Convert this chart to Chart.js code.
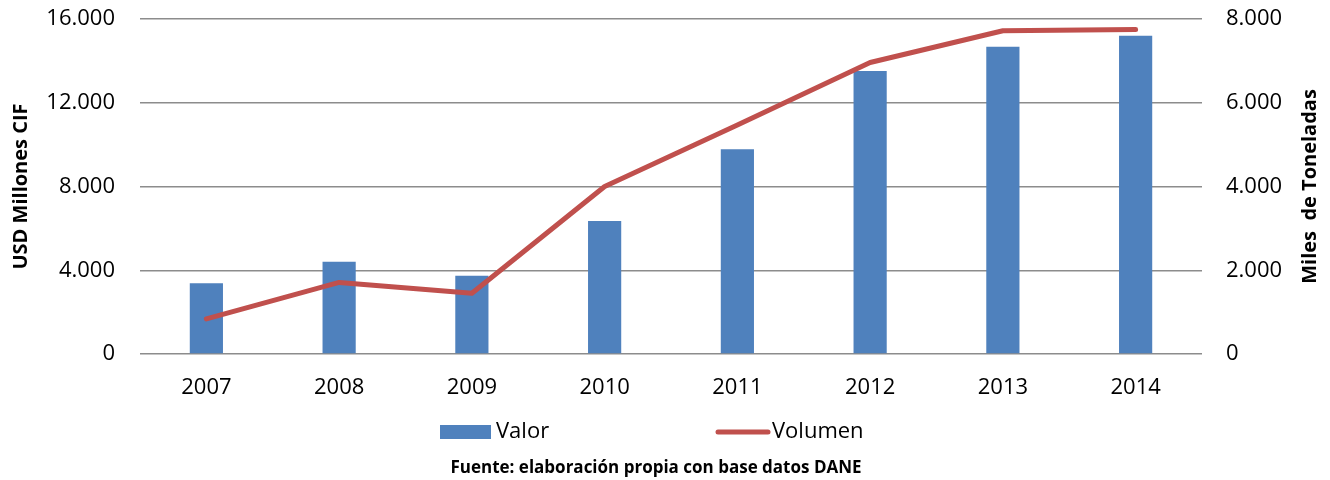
<!DOCTYPE html>
<html>
<head>
<meta charset="utf-8">
<script src="https://cdn.jsdelivr.net/npm/chart.js@4"></script>
<style>
  html, body { margin: 0; padding: 0; background: #fff; }
  #wrap { width: 1330px; height: 480px; }
</style>
</head>
<body>
<div id="wrap"><canvas id="grafico"></canvas></div>
<script>
const anios = ["2007", "2008", "2009", "2010", "2011", "2012", "2013", "2014"];
const valor = [3380, 4410, 3740, 6350, 9780, 13520, 14680, 15200]; // USD millones CIF
const volumen = [840, 1710, 1450, 4000, 5470, 6960, 7720, 7750]; // miles de toneladas
const ticksValor = [0, 4000, 8000, 12000, 16000];
const ticksVolumen = [0, 2000, 4000, 6000, 8000];
const tituloDer = "Miles  de Toneladas";
const fuente = "Fuente: elaboración propia con base datos DANE";

const AZUL = "#4F81BD";
const ROJO = "#C0504D";
const GRIS = "#8C8C8C";
const fam = "'Open Sans', 'DejaVu Sans', sans-serif";

const fmt = (v) => v.toLocaleString("de-DE");

// leyenda, titulo derecho y fuente dibujados a mano
const extrasPlugin = {
  id: "extras",
  afterDraw(chart) {
    const ctx = chart.ctx;
    const ds = chart.data.datasets;
    const area = chart.chartArea;
    ctx.save();
    ctx.font = "22px " + fam;
    ctx.textBaseline = "middle";
    // Valor
    ctx.fillStyle = ds[0].backgroundColor;
    ctx.fillRect(440, 425, 51, 14);
    ctx.fillStyle = "#000";
    ctx.fillText(ds[0].label, 496, 432);
    // Volumen
    ctx.strokeStyle = ds[1].borderColor;
    ctx.lineWidth = 5;
    ctx.lineCap = "round";
    ctx.beginPath();
    ctx.moveTo(718, 432);
    ctx.lineTo(768, 432);
    ctx.stroke();
    ctx.fillText(ds[1].label, 772, 432);
    // fuente
    ctx.font = "bold 17px " + fam;
    ctx.textAlign = "center";
    ctx.fillText(fuente, 656, 468);
    // titulo eje derecho (leido de abajo hacia arriba)
    ctx.translate(1310, (area.top + area.bottom) / 2);
    ctx.rotate(-Math.PI / 2);
    ctx.font = "bold 20px " + fam;
    ctx.fillText(tituloDer, 0, 0);
    ctx.restore();
  },
};

const fijarY = (ancho) => (s) => {
  s.width = ancho;
  s.paddingTop = 0;
  s.paddingBottom = 0;
};

const config = {
  type: "bar",
  data: {
    labels: anios,
    datasets: [
      {
        label: "Valor",
        data: valor,
        backgroundColor: AZUL,
        yAxisID: "y",
        categoryPercentage: 1,
        barPercentage: 0.25,
        order: 2,
      },
      {
        type: "line",
        label: "Volumen",
        data: volumen,
        borderColor: ROJO,
        backgroundColor: ROJO,
        borderWidth: 5,
        pointRadius: 0,
        tension: 0,
        borderCapStyle: "round",
        borderJoinStyle: "round",
        yAxisID: "y1",
        order: 1,
      },
    ],
  },
  options: {
    responsive: true,
    maintainAspectRatio: false,
    animation: false,
    layout: { padding: { top: 19, left: 0, right: 0, bottom: 0 } },
    plugins: {
      legend: { display: false },
      tooltip: { enabled: false },
    },
    scales: {
      x: {
        grid: { display: false, drawTicks: false },
        border: { display: false },
        ticks: { color: "#000", font: { family: fam, size: 22 }, padding: 21 },
        afterFit: (s) => { s.height = 126; },
      },
      y: {
        position: "left",
        min: 0,
        max: 16000,
        afterBuildTicks: (s) => { s.ticks = ticksValor.map((v) => ({ value: v })); },
        ticks: {
          color: "#000",
          font: { family: fam, size: 22 },
          padding: 25,
          callback: (v) => fmt(v),
        },
        grid: { color: GRIS, lineWidth: 1.5, drawTicks: false },
        border: { display: false },
        title: {
          display: true,
          text: "USD Millones CIF",
          color: "#000",
          font: { family: fam, size: 20, weight: "bold" },
          padding: { top: 9, bottom: 0 },
        },
        afterFit: fijarY(140),
      },
      y1: {
        position: "right",
        min: 0,
        max: 8000,
        afterBuildTicks: (s) => { s.ticks = ticksVolumen.map((v) => ({ value: v })); },
        ticks: {
          color: "#000",
          font: { family: fam, size: 22 },
          padding: 24,
          callback: (v) => fmt(v),
        },
        grid: { display: false, drawTicks: false },
        border: { display: false },
        afterFit: fijarY(128),
      },
    },
  },
  plugins: [extrasPlugin],
};

new Chart(document.getElementById("grafico"), config);
</script>
</body>
</html>
